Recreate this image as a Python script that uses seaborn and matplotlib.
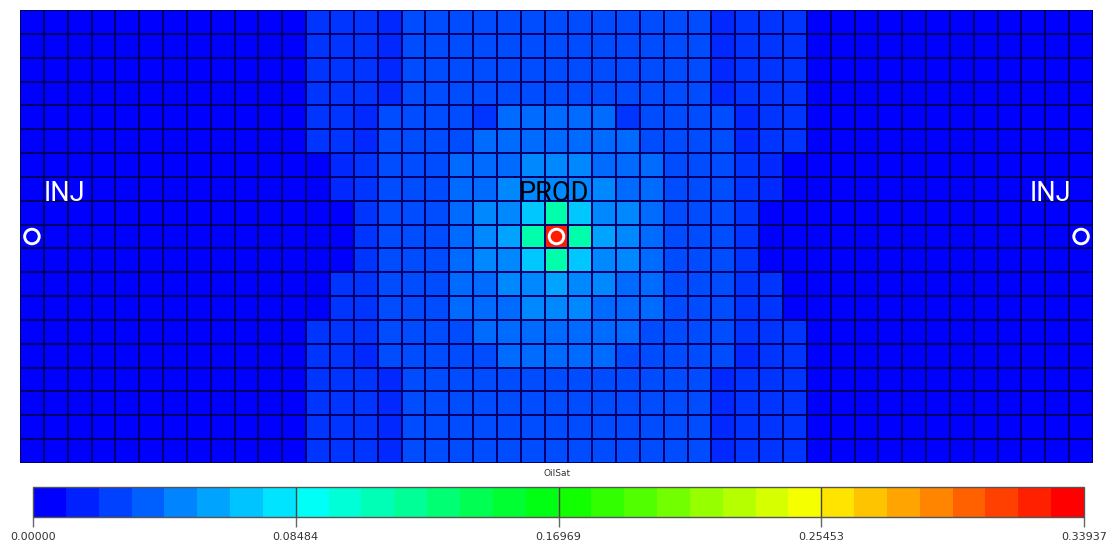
import numpy as np
import pandas as pd
import matplotlib
matplotlib.use("Agg")
import matplotlib.pyplot as plt
from matplotlib.colors import LinearSegmentedColormap, ListedColormap, Normalize
from matplotlib.cm import ScalarMappable
import seaborn as sns

sns.set_theme(style="white")
plt.rcParams["font.family"] = ["DejaVu Sans"]

# ---- data -------------------------------------------------------------
VMIN, VMAX = 0.0, 0.33937
CBAR_TICKS = [0.00000, 0.08484, 0.16969, 0.25453, 0.33937]
CBAR_TITLE = "OilSat"

# oil saturation of each saturation class used in the block map below
SAT_CLASS = {
    "0": 0.0000, "1": 0.0133, "2": 0.0173, "3": 0.0262, "4": 0.0362,
    "5": 0.0452, "6": 0.0549, "7": 0.0665, "G": 0.1131, "R": 0.3290,
}

# 19 layers (rows, top to bottom) x 45 grid blocks (columns, left to right)
GRID_ROWS = [
    "000000000000" "222133333333333331222" "000000000000",
    "000000000000" "222133333333333331222" "000000000000",
    "000000000000" "222133333333333331222" "000000000000",
    "000000000000" "222133333333333331222" "000000000000",
    "000000000000" "221333324444423333122" "000000000000",
    "000000000000" "221333344444443333122" "000000000000",
    "000000000000" "012333444555444333210" "000000000000",
    "000000000000" "012333445555544333210" "000000000000",
    "000000000000" "0023334557G7554333200" "000000000000",
    "000000000000" "002333456GRG654333200" "000000000000",
    "000000000000" "0023334557G7554333200" "000000000000",
    "000000000000" "022333445565544333220" "000000000000",
    "000000000000" "022333444555444333220" "000000000000",
    "000000000000" "222333344444443333222" "000000000000",
    "000000000000" "221333334444433333122" "000000000000",
    "000000000000" "222133333333333331222" "000000000000",
    "000000000000" "222133333333333331222" "000000000000",
    "000000000000" "222133333333333331222" "000000000000",
    "000000000000" "222133333333333331222" "000000000000",
]
assert all(len(r) == 45 for r in GRID_ROWS)

WELL_NAMES = ["INJ", "PROD", "INJ"]
WELL_COLS = [0, 22, 44]
WELL_ROWS = [9, 9, 9]

# ---- colour maps --------------------------------------------------------
cell_cmap = LinearSegmentedColormap.from_list(
    "oilsat",
    [(0.0, "#0000ff"), (0.25, "#00ffff"), (0.5, "#00ff00"),
     (0.75, "#ffff00"), (1.0, "#ff0000")],
)
bar_cmap = ListedColormap([cell_cmap(i / 31) for i in range(32)])

sat = pd.DataFrame([[SAT_CLASS[c] for c in row] for row in GRID_ROWS])

# ---- figure -------------------------------------------------------------
W, H = 1114, 547
fig = plt.figure(figsize=(W / 100, H / 100), dpi=100)
fig.patch.set_facecolor("white")

ax = fig.add_axes([20 / W, 1 - 463 / H, 1073 / W, 453 / H])
sns.heatmap(
    sat, ax=ax, cmap=cell_cmap, vmin=VMIN, vmax=VMAX, cbar=False,
    linewidths=1.4, linecolor="#00006a",
    xticklabels=False, yticklabels=False,
)
ax.set_xlabel("")
ax.set_ylabel("")
for s in ax.spines.values():
    s.set_visible(False)

# wells: ring markers and labels
ax.scatter(
    [c + 0.5 for c in WELL_COLS], [r + 0.5 for r in WELL_ROWS],
    s=110, facecolors="none", edgecolors="white", linewidths=2.1, zorder=4,
)
label_x = [1.875, 22.38, 43.2]
label_colors = ["white", "black", "white"]
for name, lx, col in zip(WELL_NAMES, label_x, label_colors):
    ax.text(lx, 8.02, name, color=col, fontsize=19.5, ha="center",
            va="baseline", family=["Roboto", "DejaVu Sans"], zorder=5)

# ---- colour bar ---------------------------------------------------------
cax = fig.add_axes([33 / W, 1 - 517 / H, 1051 / W, 30 / H])
sm = ScalarMappable(norm=Normalize(VMIN, VMAX), cmap=bar_cmap)
cb = fig.colorbar(sm, cax=cax, orientation="horizontal", ticks=CBAR_TICKS)
cb.ax.set_xticklabels([f"{t:.5f}" for t in CBAR_TICKS])
cb.outline.set_edgecolor("#555555")
cb.outline.set_linewidth(1.0)
cb.ax.tick_params(axis="x", direction="out", length=7, width=1.0,
                  color="#666666", labelsize=8, labelcolor="#333333", pad=4)
for t in CBAR_TICKS[1:-1]:
    cb.ax.axvline(t, color="#444444", lw=1.0)

fig.text(557 / W, 1 - 474 / H, CBAR_TITLE, ha="center", va="center",
         fontsize=6.5, color="#333333")

fig.savefig("out.png", dpi=100, facecolor="white")
